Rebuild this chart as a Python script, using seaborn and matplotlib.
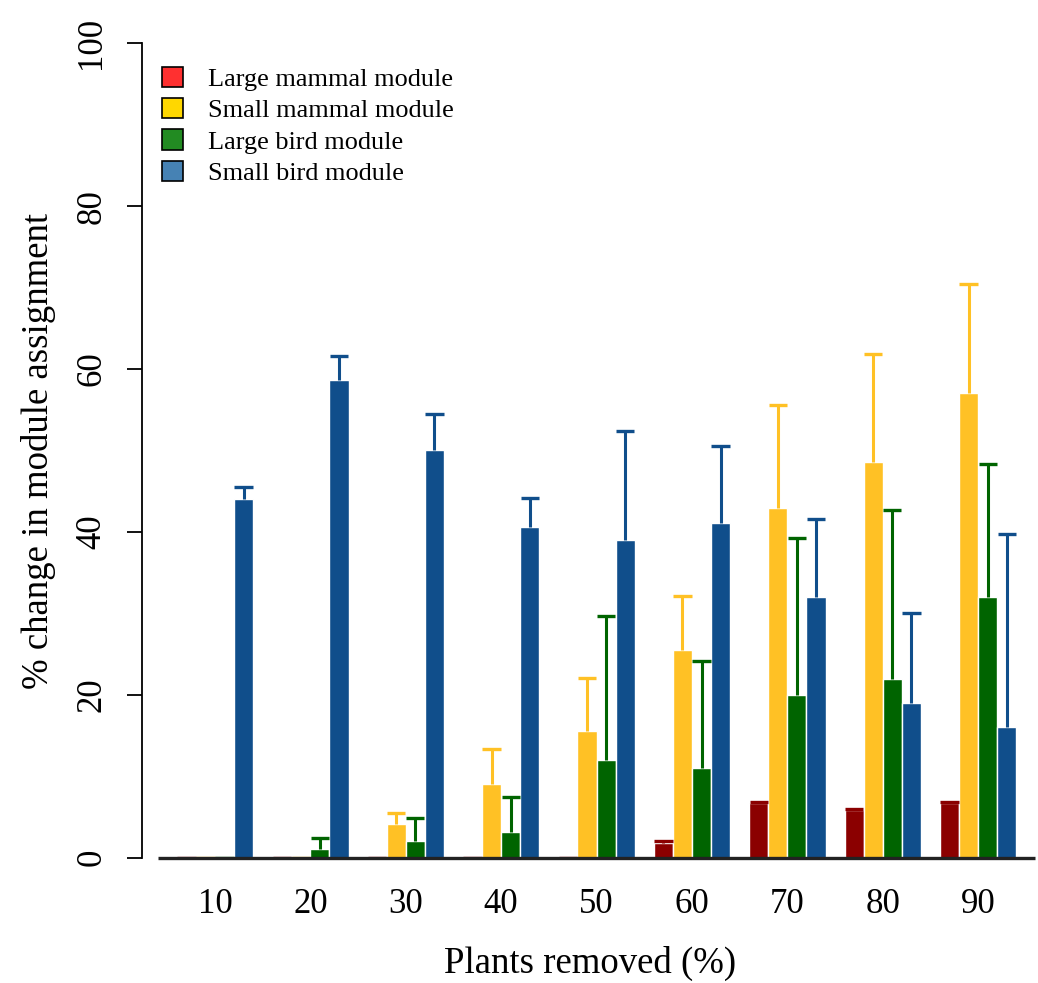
import matplotlib
matplotlib.use("Agg")
import matplotlib.pyplot as plt
from matplotlib.patches import Patch
import seaborn as sns
import pandas as pd
import numpy as np

# ---------------- data ----------------
groups = ["10", "20", "30", "40", "50", "60", "70", "80", "90"]
modules = ["Large mammal module", "Small mammal module", "Large bird module", "Small bird module"]

large_mammal = [0, 0, 0, 0, 0, 1.8, 6.7, 5.8, 6.7]
small_mammal = [0, 0, 4.1, 9.1, 15.5, 25.5, 43.0, 48.6, 57.1]
large_bird = [0, 1.1, 2.1, 3.1, 12.0, 11.0, 20.0, 22.0, 32.0]
small_bird = [44.1, 58.6, 50.1, 40.6, 39.0, 41.1, 32.0, 19.0, 16.0]

large_mammal_upper = [0, 0, 0, 0, 0, 2.0, 6.9, 6.0, 6.9]
small_mammal_upper = [0, 0, 5.5, 13.4, 22.1, 32.1, 55.6, 61.9, 70.4]
large_bird_upper = [0, 2.4, 4.9, 7.4, 29.7, 24.2, 39.2, 42.7, 48.3]
small_bird_upper = [45.5, 61.6, 54.5, 44.2, 52.4, 50.6, 41.6, 30.0, 39.7]

bar_colors = ["#8B0000", "#FFC125", "#006400", "#104E8B"]
legend_colors = ["#FF3030", "#FFD700", "#228B22", "#4682B4"]

values = [large_mammal, small_mammal, large_bird, small_bird]
uppers = [large_mammal_upper, small_mammal_upper, large_bird_upper, small_bird_upper]

rows = []
for m, vals in zip(modules, values):
    for g, v in zip(groups, vals):
        rows.append({"group": g, "module": m, "value": v})
df = pd.DataFrame(rows)

# ---------------- figure ----------------
sns.set_style("white")
plt.rcParams["font.family"] = ["Liberation Serif", "DejaVu Serif"]
for k in ["text.color", "axes.labelcolor", "xtick.color", "ytick.color"]:
    plt.rcParams[k] = "black"

fig = plt.figure(figsize=(10.38, 9.83), dpi=100)
ax = fig.add_axes([141.7 / 1038, (983 - 857.7) / 983, (1038 - 141.7) / 1038, (857.7 - 43.3) / 983])

sns.barplot(data=df, x="group", y="value", hue="module", order=groups, hue_order=modules,
            palette=bar_colors, saturation=1, width=0.8, errorbar=None,
            edgecolor="white", linewidth=1.0, legend=False, ax=ax)

# upper-only error bars with caps as wide as the bars
for cont, up, col in zip(ax.containers, uppers, bar_colors):
    for bar, u in zip(cont, up):
        x0 = bar.get_x()
        w = bar.get_width()
        h = bar.get_height()
        ax.vlines(x0 + w / 2, h, u, color=col, lw=2.2, zorder=3)
        ax.hlines(u, x0 + w * 0.02, x0 + w * 0.98, color=col, lw=2.4, zorder=3)

n = len(groups)
ax.set_xlim(-0.768, n - 1 + 0.627)
ax.set_ylim(0, 100)

# baseline
ax.plot([-0.6, n - 0.4], [0, 0], color="#222222", lw=2.4, clip_on=False, zorder=4,
        solid_capstyle="butt")

for s in ["top", "right", "bottom"]:
    ax.spines[s].set_visible(False)
ax.spines["left"].set_color("black")
ax.spines["left"].set_linewidth(1.3)

ax.set_yticks([0, 20, 40, 60, 80, 100])
ax.set_yticklabels(["0", "20", "40", "60", "80", "100"], rotation=90, va="center")
ax.tick_params(axis="y", length=11, width=1.3, pad=13, labelsize=25, left=True, direction="out")
ax.tick_params(axis="x", length=0, pad=22, labelsize=25)

ax.set_xlabel("Plants removed (%)", fontsize=26.5, labelpad=18)
ax.set_ylabel("% change in module assignment", fontsize=26.5, labelpad=14)

handles = [Patch(facecolor=c, edgecolor="black", linewidth=1.2) for c in legend_colors]
ax.legend(handles, modules, loc="upper left", bbox_to_anchor=(-0.004, 1.0), frameon=False,
          fontsize=18.9, handlelength=0.8, handleheight=0.8, handletextpad=0.95,
          labelspacing=0.27, borderaxespad=0.5)

fig.savefig("out.png", dpi=100)
